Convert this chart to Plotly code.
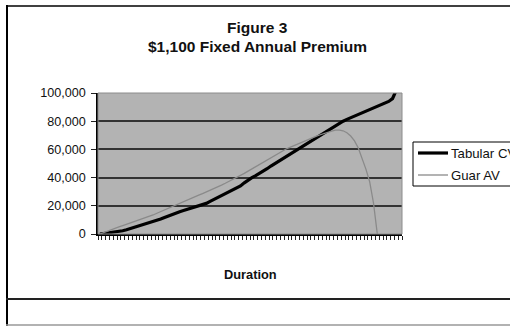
import plotly.graph_objects as go

# Policy durations (years) and values at each duration
durations = list(range(1, 81))

tabular_cv = [
    0, 300, 600, 900, 1300, 1700, 2300, 3000, 3800, 4700,
    5600, 6400, 7200, 8000, 8900, 9500, 10600, 11700, 12800, 14000,
    15000, 15800, 16600, 17400, 18200, 19000, 19700, 20400, 21700, 23100,
    24500, 25900, 27200, 28600, 30000, 31400, 32700, 34100, 36300, 38500,
    40000, 41400, 42900, 44400, 46300, 48200, 49900, 51600, 53400, 55000,
    56700, 58400, 60000, 61600, 63300, 65000, 66700, 68300, 70000, 71700,
    73300, 75000, 76600, 78300, 80000, 81300, 82500, 83700, 84900, 86100,
    87300, 88500, 89700, 90800, 92000, 93000, 94000, 96000, 102000, 112000,
]

guar_av = [
    0, 1100, 2100, 3100, 4000, 5000, 5900, 6800, 7700, 8600,
    9500, 10400, 11300, 12400, 13500, 14700, 15900, 17200, 18500, 19700,
    20800, 22000, 23100, 24300, 25400, 26500, 27600, 28700, 29800, 31000,
    32200, 33400, 34700, 36000, 37300, 38600, 39900, 41400, 43000, 44600,
    46200, 47800, 49300, 50900, 52500, 54100, 55700, 57300, 58900, 60300,
    61500, 62700, 63800, 65000, 66100, 67200, 68400, 69400, 70400, 71400,
    72300, 73000, 73600, 73700, 73200, 71800, 69500, 66000, 61000, 54000,
    46000, 37000, 22000, 0,
]

y_ticks = [0, 20000, 40000, 60000, 80000, 100000]

series_names = ["Tabular CV", "Guar AV"]
series_colors = ["#000000", "#8a8a8a"]
series_widths = [3.2, 1.3]

W, H = 510, 326
L, R, T, B = 98, 402, 93, 234  # plot area in pixels


def px_x(px):
    return (px - L) / (R - L)


def px_y(py):
    return (B - py) / (B - T)


FONT = "Liberation Sans, Arial, sans-serif"

fig = go.Figure()
for name, vals, color, width in zip(series_names, [tabular_cv, guar_av],
                                    series_colors, series_widths):
    fig.add_trace(go.Scatter(
        x=durations[:len(vals)], y=vals, mode="lines", name=name,
        line=dict(color=color, width=width), showlegend=False,
    ))

shapes = [
    # plot area border
    dict(type="rect", xref="paper", yref="paper", x0=0, y0=0, x1=1, y1=1,
         line=dict(color="#8c8c8c", width=1), layer="above"),
    # chart frame
    dict(type="line", xref="paper", yref="paper", x0=px_x(7), x1=px_x(7),
         y0=px_y(5), y1=px_y(330), line=dict(color="#000", width=2)),
    dict(type="line", xref="paper", yref="paper", x0=px_x(6), x1=px_x(520),
         y0=px_y(6), y1=px_y(6), line=dict(color="#000", width=1.5)),
    dict(type="line", xref="paper", yref="paper", x0=px_x(6), x1=px_x(520),
         y0=px_y(299), y1=px_y(299), line=dict(color="#222", width=2)),
    dict(type="line", xref="paper", yref="paper", x0=px_x(6), x1=px_x(520),
         y0=px_y(325), y1=px_y(325), line=dict(color="#999", width=1.5)),
    # legend box
    dict(type="rect", xref="paper", yref="paper",
         x0=px_x(413), x1=px_x(530), y0=px_y(186), y1=px_y(142),
         fillcolor="white", line=dict(color="#000", width=1)),
]

annotations = [
    dict(text="<b>Figure 3</b>", xref="paper", yref="paper",
         x=px_x(257), y=px_y(27), xanchor="center", yanchor="middle",
         showarrow=False, font=dict(family=FONT, size=15.5, color="#111")),
    dict(text="<b>$1,100 Fixed Annual Premium</b>", xref="paper", yref="paper",
         x=px_x(257), y=px_y(47), xanchor="center", yanchor="middle",
         showarrow=False, font=dict(family=FONT, size=15.5, color="#111")),
    dict(text="<b>Duration</b>", xref="paper", yref="paper",
         x=px_x(250), y=px_y(274), xanchor="center", yanchor="middle",
         showarrow=False, font=dict(family=FONT, size=12.8, color="#111")),
]

# legend entries: line sample plus label
for i, (name, color, width) in enumerate(zip(series_names, series_colors,
                                             series_widths)):
    row_y = 153 + 22 * i
    shapes.append(dict(
        type="line", xref="paper", yref="paper",
        x0=px_x(418), x1=px_x(448), y0=px_y(row_y), y1=px_y(row_y),
        line=dict(color=color, width=width),
    ))
    annotations.append(dict(
        text=name, xref="paper", yref="paper",
        x=px_x(449), y=px_y(row_y), xanchor="left", yanchor="middle",
        showarrow=False, font=dict(family=FONT, size=13.2, color="#111"),
    ))

fig.update_layout(
    width=W, height=H,
    margin=dict(l=L, r=W - R, t=T, b=H - B, autoexpand=False),
    paper_bgcolor="white",
    plot_bgcolor="#b3b3b3",
    showlegend=False,
    shapes=shapes,
    annotations=annotations,
    font=dict(family=FONT, color="#111"),
)

fig.update_xaxes(
    range=[0.5, len(durations) + 0.5],
    tickmode="array",
    tickvals=[d - 0.5 for d in durations] + [len(durations) + 0.5],
    showticklabels=False,
    ticks="outside", ticklen=4, tickwidth=1, tickcolor="#222",
    showgrid=False, zeroline=False,
    showline=True, linecolor="#000", linewidth=1.5,
)

fig.update_yaxes(
    range=[0, 100000],
    tickmode="array", tickvals=y_ticks,
    tickformat=",",
    ticks="outside", ticklen=5, tickwidth=1, tickcolor="#222",
    ticklabelstandoff=3,
    tickfont=dict(family=FONT, size=12.6, color="#111"),
    showgrid=True, gridcolor="#333", gridwidth=1.5,
    zeroline=False,
    showline=True, linecolor="#000", linewidth=1.5,
)

fig.write_html("out.html")
